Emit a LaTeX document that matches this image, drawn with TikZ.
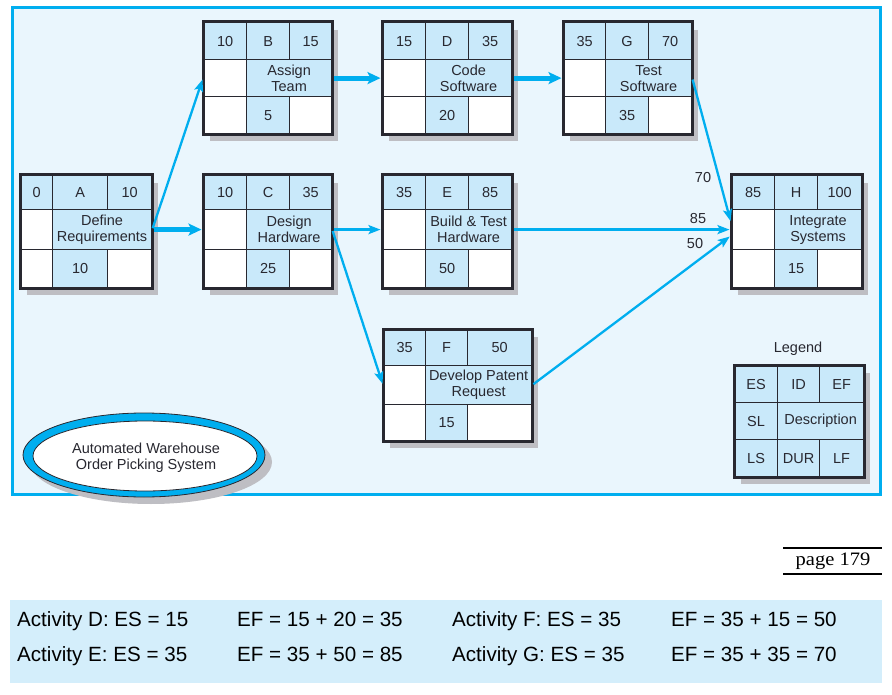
\documentclass[tikz,border=0pt]{standalone}
\usepackage{fontspec}
\setmainfont{Liberation Sans}
\newfontfamily\pageserif{Liberation Serif}
\usetikzlibrary{arrows.meta}
\definecolor{arrowblue}{RGB}{0,174,239}
\definecolor{cellblue}{RGB}{201,233,250}
\definecolor{bgblue}{RGB}{234,246,253}
\definecolor{bandblue}{RGB}{212,238,251}
\definecolor{shadowgray}{RGB}{190,190,195}
\definecolor{inkc}{RGB}{40,40,48}
\newcommand\boxfont{\fontsize{14.5pt}{16pt}\selectfont}
\newcommand\bandfont{\fontsize{20.6pt}{24pt}\selectfont}
\newcommand\settxt[5]{\def\tES{#1}\def\tID{#2}\def\tEF{#3}\def\tDS{#4}\def\tDU{#5}}
\def\tSL{}\def\tLS{}\def\tLF{}\def\wfill{white}
\tikzset{
  cellb/.style={draw=inkc, line width=1.2pt, fill=cellblue, inner sep=0pt,
    anchor=north west, font=\boxfont, text=inkc, align=center},
  cellw/.style={cellb, fill=\wfill},
  thinarrow/.style={draw=arrowblue, line width=2.3pt, shorten <=1.5pt, shorten >=1.5pt,
    -{Stealth[length=12pt,width=9pt,inset=2.5pt]}},
  thickarrow/.style={draw=arrowblue, line width=5pt, shorten <=1.5pt, shorten >=1.5pt,
    -{Stealth[length=13pt,width=12pt,inset=3pt]}},
  lbl/.style={font=\boxfont, text=inkc, inner sep=0pt},
  bandtxt/.style={font=\bandfont, text=black, inner sep=0pt, anchor=base west},
}
% name x0 y0 w1 w2 w3 h1 h2 h3
\newcommand\actbox[9]{%
  \fill[shadowgray] (#2+7,#3+8) rectangle (#2+#4+#5+#6+7,#3+#7+#8+#9+8);
  \node[cellb, minimum width={#4*1pt}, minimum height={#7*1pt}] (#1-es) at (#2,#3) {\tES};
  \node[cellb, minimum width={#5*1pt}, minimum height={#7*1pt}] (#1-id) at (#2+#4,#3) {\tID};
  \node[cellb, minimum width={#6*1pt}, minimum height={#7*1pt}] (#1-ef) at (#2+#4+#5,#3) {\tEF};
  \node[cellw, minimum width={#4*1pt}, minimum height={#8*1pt}] (#1-sl) at (#2,#3+#7) {\tSL};
  \node[cellb, minimum width={(#5+#6)*1pt}, minimum height={#8*1pt}] (#1-ds) at (#2+#4,#3+#7) {\tDS};
  \node[cellw, minimum width={#4*1pt}, minimum height={#9*1pt}] (#1-ls) at (#2,#3+#7+#8) {\tLS};
  \node[cellb, minimum width={#5*1pt}, minimum height={#9*1pt}] (#1-du) at (#2+#4,#3+#7+#8) {\tDU};
  \node[cellw, minimum width={#6*1pt}, minimum height={#9*1pt}] (#1-lf) at (#2+#4+#5,#3+#7+#8) {\tLF};
  \draw[line width=3pt, inkc] (#1-es.north west) rectangle (#1-lf.south east);
}
\begin{document}
\begin{tikzpicture}[x=1pt,y=-1pt]
\useasboundingbox (0,0) rectangle (892,695);
\fill[white] (0,0) rectangle (892,695);
% frame
\draw[arrowblue, line width=3pt, fill=bgblue] (12,8) rectangle (880.5,494.5);
% activity boxes
\settxt{0}{A}{10}{Define\\Requirements}{10}
\actbox{A}{20}{175}{32}{55}{44}{34}{40}{38}
\settxt{10}{B}{15}{Assign\\Team}{5}
\actbox{B}{203}{22}{43}{43}{42}{37}{37}{37}
\settxt{10}{C}{35}{Design\\Hardware}{25}
\actbox{C}{203}{175}{43}{43}{42}{34}{40}{38}
\settxt{15}{D}{35}{Code\\Software}{20}
\actbox{D}{382}{22}{43}{43}{43}{37}{37}{37}
\settxt{35}{G}{70}{Test\\Software}{35}
\actbox{G}{563}{22}{42}{43}{43}{37}{37}{37}
\settxt{35}{E}{85}{Build \& Test\\Hardware}{50}
\actbox{E}{382}{175}{43}{43}{43}{34}{40}{38}
\settxt{85}{H}{100}{Integrate\\Systems}{15}
\actbox{H}{731}{175}{43}{43}{44}{34}{40}{38}
\settxt{35}{F}{50}{Develop Patent\\Request}{15}
\actbox{F}{383}{329}{42}{42}{64}{36}{39}{36}
% legend
\settxt{ES}{ID}{EF}{Description}{DUR}
\def\tSL{SL}\def\tLS{LS}\def\tLF{LF}\def\wfill{cellblue}
\actbox{L}{734}{365}{43}{42}{44}{37}{37}{37}
\node[lbl] (legendtitle) at (798,349) {Legend};
% connectors
\draw[thinarrow] (A-ds.east) -- (B-sl.west);
\draw[thickarrow] (A-ds.east) -- (C-sl.west);
\draw[thickarrow] (B-ds.east) -- (D-sl.west);
\draw[thickarrow] (D-ds.east) -- (G-sl.west);
\draw[thinarrow] (C-ds.east) -- (E-sl.west);
\draw[thinarrow] (C-ds.east) -- (F-sl.west);
\draw[thinarrow] (G-ds.east) -- ([yshift=7pt]H-sl.west);
\draw[thinarrow, line width=2.6pt] (E-ds.east) -- (H-sl.west);
\draw[thinarrow] (F-ds.east) -- ([yshift=-6pt]H-sl.west);
\node[lbl] (l70) at (703,178) {70};
\node[lbl] (l85) at (698,219) {85};
\node[lbl] (l50) at (695,244) {50};
% title ellipse
\fill[shadowgray] (151,462) ellipse [x radius=121pt, y radius=42pt];
\filldraw[fill=arrowblue, draw=inkc, line width=0.8pt] (144,455) ellipse [x radius=121pt, y radius=42pt];
\filldraw[fill=white, draw=inkc, line width=0.8pt] (145,456) ellipse [x radius=112pt, y radius=35pt];
\node[lbl, align=center] (title) at (146,458) {Automated Warehouse\\Order Picking System};
% page label
\draw[black, line width=1.2pt] (783,548) -- (882,548);
\draw[black, line width=1.2pt] (783,574) -- (882,574);
\node[inner sep=0pt, font=\pageserif\fontsize{19pt}{22pt}\selectfont, xscale=1.08] (page) at (833,561) {page 179};
% band
\fill[bandblue] (10,600) rectangle (882,683);
\node[bandtxt] (d1) at (17,626) {Activity D: ES = 15};
\node[bandtxt] (d2) at (237,626) {EF = 15 + 20 = 35};
\node[bandtxt] (f1) at (452,626) {Activity F: ES = 35};
\node[bandtxt] (f2) at (671,626) {EF = 35 + 15 = 50};
\node[bandtxt] (e1) at (17,661) {Activity E: ES = 35};
\node[bandtxt] (e2) at (237,661) {EF = 35 + 50 = 85};
\node[bandtxt] (g1) at (452,661) {Activity G: ES = 35};
\node[bandtxt] (g2) at (671,661) {EF = 35 + 35 = 70};
\end{tikzpicture}
\end{document}
